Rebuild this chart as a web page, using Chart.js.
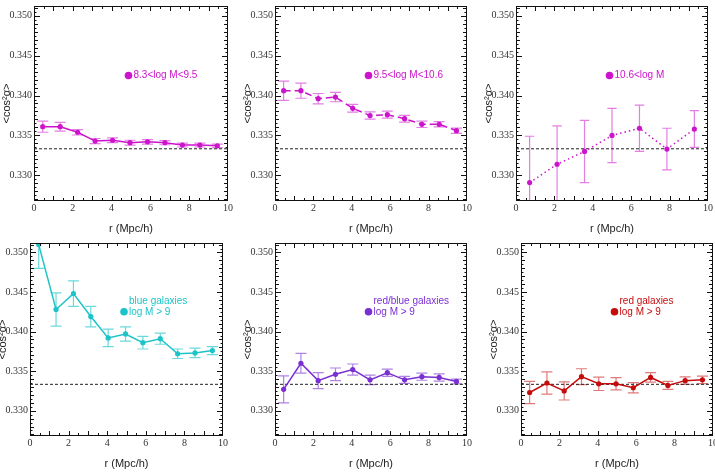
<!DOCTYPE html>
<html>
<head>
<meta charset="utf-8">
<script src="https://cdn.jsdelivr.net/npm/chart.js@4.4.0/dist/chart.umd.min.js"></script>
<style>
  body { margin: 0; background: #fff; width: 715px; height: 474px; overflow: hidden; position: relative; }
  canvas { position: absolute; }
</style>
</head>
<body>
<canvas id="c1"></canvas>
<canvas id="c2"></canvas>
<canvas id="c3"></canvas>
<canvas id="c4"></canvas>
<canvas id="c5"></canvas>
<canvas id="c6"></canvas>
<script>
// tick labels
const yTicks = [0.330, 0.335, 0.340, 0.345, 0.350];
const xTicks = [0, 2, 4, 6, 8, 10];
const randomLevel = 1 / 3;

// separation bins (Mpc/h)
const rBins = [0.45, 1.35, 2.25, 3.15, 4.05, 4.95, 5.85, 6.75, 7.65, 8.55, 9.45];
const rBinsHigh = [0.71, 2.14, 3.57, 5.0, 6.43, 7.86, 9.29];

// <cos^2 alpha> per sample, with errors
const lowMass = [0.3361, 0.3361, 0.3354, 0.3343, 0.3344, 0.3341, 0.3342, 0.3341, 0.3338, 0.3338, 0.3337];
const lowMassErr = [0.0007, 0.00055, 0.00034, 0.00032, 0.0003, 0.0003, 0.00028, 0.00026, 0.00024, 0.00024, 0.00022];

const midMass = [0.3406, 0.3406, 0.3396, 0.3398, 0.3384, 0.3375, 0.3376, 0.3371, 0.3364, 0.3364, 0.3356];
const midMassErr = [0.0012, 0.00094, 0.00065, 0.00058, 0.00048, 0.00045, 0.00044, 0.00042, 0.0004, 0.00033, 0.00033];

const highMass = [0.3291, 0.3314, 0.3330, 0.3350, 0.3359, 0.3333, 0.3358];
const highMassErr = [0.0058, 0.0048, 0.0039, 0.0034, 0.0029, 0.0026, 0.0023];

const blueGal = [0.3510, 0.3428, 0.3448, 0.3419, 0.3392, 0.3397, 0.3386, 0.3391, 0.3372, 0.3373, 0.3376];
const blueGalErr = [0.0030, 0.0021, 0.0016, 0.0013, 0.0011, 0.0009, 0.0008, 0.0007, 0.0006, 0.0006, 0.0005];

const mixGal = [0.3327, 0.3360, 0.3338, 0.3346, 0.3352, 0.3339, 0.3348, 0.3339, 0.3343, 0.3342, 0.3337];
const mixGalErr = [0.0017, 0.00125, 0.001, 0.0008, 0.0007, 0.0006, 0.00045, 0.00045, 0.00045, 0.00045, 0.0003];

const redGal = [0.3323, 0.3335, 0.3325, 0.3343, 0.3334, 0.3334, 0.3329, 0.3342, 0.3332, 0.3338, 0.3339];
const redGalErr = [0.0014, 0.0014, 0.00115, 0.001, 0.00085, 0.00078, 0.00065, 0.0006, 0.0005, 0.00048, 0.00048];

const tickFont = { family: "'Liberation Serif', 'DejaVu Serif', serif", size: 10 };
const titleFont = { family: "'Liberation Sans', Arial, sans-serif", size: 11 };
const legendFont = "10px 'Liberation Sans', Arial, sans-serif";

// frame, inward ticks, error bars and the little legend
const decor = {
  id: 'decor',
  beforeDatasetsDraw(chart) {
    const { ctx, chartArea: a, scales: { x, y } } = chart;
    ctx.save();
    ctx.beginPath();
    ctx.rect(a.left, a.top, a.right - a.left, a.bottom - a.top);
    ctx.clip();
    chart.data.datasets.forEach(ds => {
      if (!ds.errors) return;
      ctx.strokeStyle = ds.errorColor;
      ctx.lineWidth = 1.2;
      const cap = ds.capWidth || 5.5;
      ds.data.forEach((p, j) => {
        const px = x.getPixelForValue(p.x);
        const top = y.getPixelForValue(p.y + ds.errors[j]);
        const bot = y.getPixelForValue(p.y - ds.errors[j]);
        ctx.beginPath();
        ctx.moveTo(px, top); ctx.lineTo(px, bot);
        ctx.moveTo(px - cap, top); ctx.lineTo(px + cap, top);
        ctx.moveTo(px - cap, bot); ctx.lineTo(px + cap, bot);
        ctx.stroke();
      });
    });
    ctx.restore();
  },
  afterDatasetsDraw(chart, args, opts) {
    const { ctx, chartArea: a, scales: { x, y } } = chart;
    ctx.save();
    ctx.strokeStyle = '#111';
    ctx.lineWidth = 1;
    ctx.strokeRect(a.left + 0.5, a.top + 0.5, a.right - a.left - 1, a.bottom - a.top - 1);
    ctx.beginPath();
    for (let v = 0.5; v < 10; v += 0.5) {
      const px = Math.round(x.getPixelForValue(v)) + 0.5;
      const len = Number.isInteger(v) ? 5 : 3;
      ctx.moveTo(px, a.bottom); ctx.lineTo(px, a.bottom - len);
      ctx.moveTo(px, a.top); ctx.lineTo(px, a.top + len);
    }
    for (let k = 654; k <= 702; k++) {
      const v = k / 2000;
      const py = Math.round(y.getPixelForValue(v)) + 0.5;
      const len = k % 10 === 0 ? 6 : (k % 2 === 0 ? 4 : 2.5);
      ctx.moveTo(a.left, py); ctx.lineTo(a.left + len, py);
      ctx.moveTo(a.right, py); ctx.lineTo(a.right - len, py);
    }
    ctx.stroke();

    // legend marker and text
    const lx = x.getPixelForValue(4.87);
    const ly = y.getPixelForValue(0.3425);
    ctx.fillStyle = opts.color;
    ctx.beginPath();
    ctx.arc(lx, ly, 3.8, 0, Math.PI * 2);
    ctx.fill();
    ctx.font = legendFont;
    ctx.textBaseline = 'middle';
    ctx.textAlign = 'left';
    const lines = opts.lines;
    lines.forEach((t, i) => {
      const off = (i - (lines.length - 1)) * 10.5;
      ctx.fillText(t, lx + 5, ly + off);
    });
    ctx.restore();
  }
};

const panels = [
  { id: 'c1', area: [34, 228, 6, 201], r: rBins, v: lowMass, e: lowMassErr,
    color: '#cc14cc', errColor: 'rgba(204,20,204,0.55)', dash: [], lines: ['8.3<log M<9.5'] },
  { id: 'c2', area: [275, 467, 6, 201], r: rBins, v: midMass, e: midMassErr,
    color: '#cc14cc', errColor: 'rgba(204,20,204,0.55)', dash: [7, 4], lines: ['9.5<log M<10.6'] },
  { id: 'c3', area: [516, 708, 6, 201], r: rBinsHigh, v: highMass, e: highMassErr,
    color: '#cc14cc', errColor: 'rgba(204,20,204,0.55)', dash: [1.5, 3], lines: ['10.6<log M'], cap: 4.7 },
  { id: 'c4', area: [30, 223, 243, 436], r: rBins, v: blueGal, e: blueGalErr,
    color: '#1cc4c8', errColor: 'rgba(28,196,200,0.65)', dash: [], lines: ['blue galaxies', 'log M > 9'] },
  { id: 'c5', area: [275, 467, 243, 436], r: rBins, v: mixGal, e: mixGalErr,
    color: '#7a2fd2', errColor: 'rgba(122,47,210,0.6)', dash: [], lines: ['red/blue galaxies', 'log M > 9'] },
  { id: 'c6', area: [521, 713, 243, 436], r: rBins, v: redGal, e: redGalErr,
    color: '#c40c0c', errColor: 'rgba(196,12,12,0.55)', dash: [], lines: ['red galaxies', 'log M > 9'] }
];

const Y_AXIS_W = 34, X_AXIS_H = 35, PAD_TOP = 6, PAD_RIGHT = 8;

panels.forEach(p => {
  const [l, r, t, b] = p.area;
  const canvas = document.getElementById(p.id);
  canvas.width = Y_AXIS_W + (r - l) + PAD_RIGHT;
  canvas.height = PAD_TOP + (b - t) + X_AXIS_H;
  canvas.style.left = (l - Y_AXIS_W) + 'px';
  canvas.style.top = (t - PAD_TOP) + 'px';

  new Chart(canvas, {
    type: 'line',
    data: {
      datasets: [
        {
          data: p.r.map((x, i) => ({ x: x, y: p.v[i] })),
          errors: p.e,
          errorColor: p.errColor,
          capWidth: p.cap,
          borderColor: p.color,
          backgroundColor: p.color,
          borderWidth: 1.5,
          borderDash: p.dash,
          pointRadius: 2.6,
          pointBorderWidth: 0,
          tension: 0
        },
        {
          data: [{ x: 0, y: randomLevel }, { x: 10, y: randomLevel }],
          borderColor: '#222',
          borderWidth: 1,
          borderDash: [3, 2],
          pointRadius: 0
        }
      ]
    },
    options: {
      responsive: false,
      animation: false,
      devicePixelRatio: 1,
      layout: { padding: { top: PAD_TOP, right: PAD_RIGHT, left: 0, bottom: 0 } },
      plugins: {
        legend: { display: false },
        tooltip: { enabled: false },
        decor: { color: p.color, lines: p.lines }
      },
      scales: {
        x: {
          type: 'linear', min: 0, max: 10,
          afterBuildTicks: s => { s.ticks = xTicks.map(v => ({ value: v })); },
          afterFit: s => { s.height = X_AXIS_H; s.paddingLeft = 0; s.paddingRight = 0; },
          grid: { display: false, drawTicks: false },
          border: { display: false },
          ticks: { font: tickFont, color: '#333', padding: 1, maxRotation: 0, autoSkip: false },
          title: { display: true, text: 'r (Mpc/h)', font: titleFont, color: '#222', padding: 0 }
        },
        y: {
          type: 'linear', min: 0.3268, max: 0.3512,
          afterBuildTicks: s => { s.ticks = yTicks.map(v => ({ value: v })); },
          afterFit: s => { s.width = Y_AXIS_W; s.paddingTop = 0; s.paddingBottom = 0; },
          grid: { display: false, drawTicks: false },
          border: { display: false },
          ticks: { font: tickFont, color: '#333', padding: 2, autoSkip: false, callback: v => v.toFixed(3) },
          title: { display: true, text: '<cos²α>', font: titleFont, color: '#222', padding: 0 }
        }
      }
    },
    plugins: [decor]
  });
});
</script>
</body>
</html>
